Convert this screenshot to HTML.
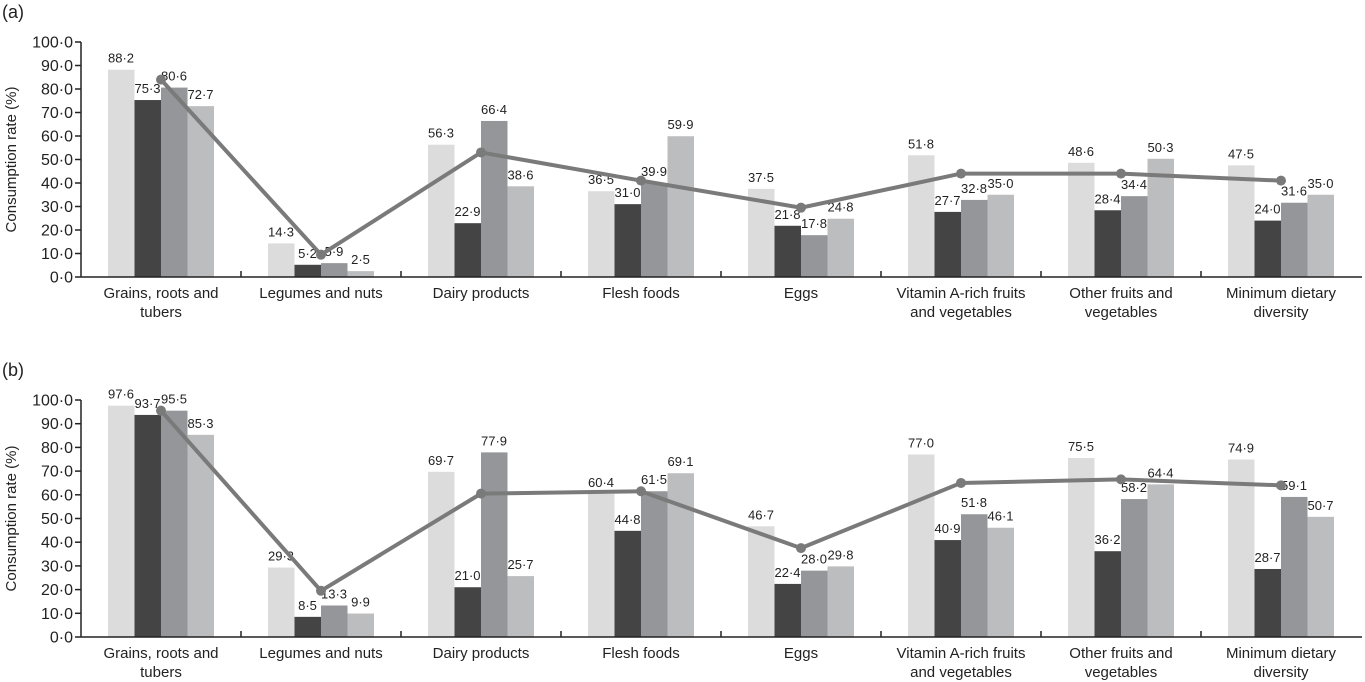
<!DOCTYPE html>
<html><head><meta charset="utf-8"><style>
body{margin:0;background:#fff;}
svg{display:block;font-family:"Liberation Sans",sans-serif;}
</style></head><body>
<svg id="c" width="1365" height="682"></svg>
<script>
const categories=[["Grains, roots and","tubers"],["Legumes and nuts"],["Dairy products"],["Flesh foods"],["Eggs"],["Vitamin A-rich fruits","and vegetables"],["Other fruits and","vegetables"],["Minimum dietary","diversity"]];
const seriesA1=[88.2,14.3,56.3,36.5,37.5,51.8,48.6,47.5];
const seriesA2=[75.3,5.2,22.9,31.0,21.8,27.7,28.4,24.0];
const seriesA3=[80.6,5.9,66.4,39.9,17.8,32.8,34.4,31.6];
const seriesA4=[72.7,2.5,38.6,59.9,24.8,35.0,50.3,35.0];
const lineA=[84,9.5,53,41,29.5,44,44,41];
const seriesB1=[97.6,29.3,69.7,60.4,46.7,77.0,75.5,74.9];
const seriesB2=[93.7,8.5,21.0,44.8,22.4,40.9,36.2,28.7];
const seriesB3=[95.5,13.3,77.9,61.5,28.0,51.8,58.2,59.1];
const seriesB4=[85.3,9.9,25.7,69.1,29.8,46.1,64.4,50.7];
const lineB=[95.5,19.5,60.5,61.5,37.5,65,66.5,64];
const yTicks=[0,10,20,30,40,50,60,70,80,90,100];

const NS="http://www.w3.org/2000/svg";
const svg=document.getElementById('c');
function mk(t,a,p){const e=document.createElementNS(NS,t);for(const k in a)e.setAttribute(k,a[k]);(p||svg).appendChild(e);return e;}
const fmt=v=>v.toFixed(1).replace('.','·');
const colors=['#dcdcdc','#444444','#959699','#bcbdbf'];
function panel(label,top0,top100,series,line,pname){
  const g=mk('g',{});
  
  
  const x0=81,cw=160;
  const y=v=>top0-(top0-top100)*v/100;
  const xc=i=>x0+cw*i+80;
  const t=mk('text',{x:2,y:top100-24,'font-size':18,fill:'#222'},g);t.textContent=label;
  
  yTicks.forEach(v=>{
    mk('line',{x1:x0-6,x2:x0,y1:y(v),y2:y(v),stroke:'#222','stroke-width':1.5},g);
    const tt=mk('text',{x:x0-8,y:y(v)+5.5,'font-size':16,'text-anchor':'end',fill:'#222'},g);tt.textContent=fmt(v);
    
  });
  const yt=mk('text',{transform:`translate(16,${(top0+top100)/2}) rotate(-90)`,'font-size':15,'text-anchor':'middle',fill:'#222'},g);
  yt.textContent='Consumption rate (%)';
  
  series.forEach((s,si)=>s.forEach((v,i)=>{
    const bx=xc(i)-53+si*26.5;
    const r=mk('rect',{x:bx,y:y(v),width:26.5,height:top0-y(v),fill:colors[si]},g);
    
    const lt=mk('text',{x:bx+13,y:y(v)-7,'font-size':13,'text-anchor':'middle',fill:'#222'},g);lt.textContent=fmt(v);
    
  }));
  mk('line',{x1:x0,x2:x0,y1:top100,y2:top0,stroke:'#222','stroke-width':1.5},g);
  mk('line',{x1:x0,x2:1362,y1:top0,y2:top0,stroke:'#222','stroke-width':1.5},g);
  categories.forEach((c,i)=>{
    if(i>0)mk('line',{x1:x0+cw*i,x2:x0+cw*i,y1:top0-6,y2:top0,stroke:'#222','stroke-width':1.5},g);
    c.forEach((l,j)=>{const ct=mk('text',{x:xc(i),y:top0+21+j*19,'font-size':15,'text-anchor':'middle',fill:'#222'},g);ct.textContent=l;
      });
  });
  const pl=mk('polyline',{points:line.map((v,i)=>xc(i)+','+y(v)).join(' '),fill:'none',stroke:'#7a7a7a','stroke-width':4},g);
  
  line.forEach((v,i)=>{const c=mk('circle',{cx:xc(i),cy:y(v),r:5,fill:'#7a7a7a'},g);
    });
}
panel('(a)',277,42,[seriesA1,seriesA2,seriesA3,seriesA4],lineA,'panel-a');
panel('(b)',637,400,[seriesB1,seriesB2,seriesB3,seriesB4],lineB,'panel-b');
</script>
</body></html>
